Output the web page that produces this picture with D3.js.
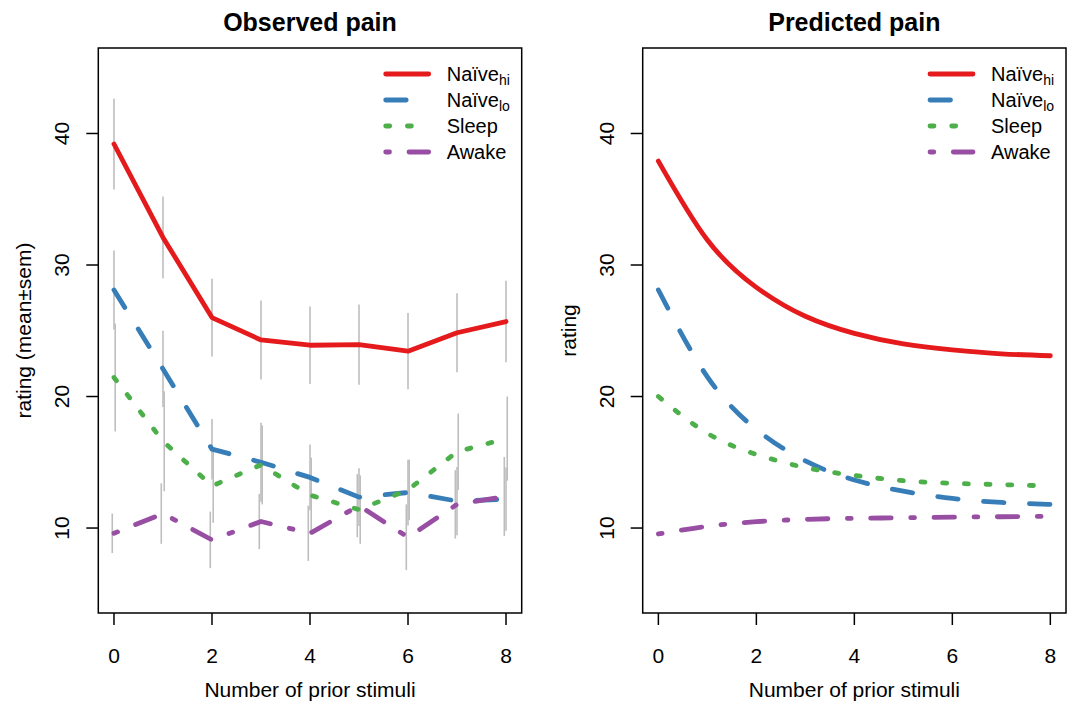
<!DOCTYPE html>
<html>
<head>
<meta charset="utf-8">
<script src="https://cdn.jsdelivr.net/npm/d3@7"></script>
<style>
body { margin: 0; background: #fff; }
svg text { font-family: "Liberation Sans", Arial, sans-serif; fill: #000; }
</style>
</head>
<body>
<svg id="chart" width="1072" height="704"></svg>
<script>
// data
var stimuli = [0, 1, 2, 3, 4, 5, 6, 7, 8]
var xTicks = [0, 2, 4, 6, 8]
var yTicks = [10, 20, 30, 40]

// observed means and sems
var obsHi    = [39.2, 32.1, 26.0, 24.3, 23.9, 23.95, 23.45, 24.85, 25.7]
var obsHiSem = [3.45, 3.1, 2.95, 3.0, 2.95, 3.05, 2.9, 3.0, 3.1]
var obsLo    = [28.1, 22.1, 16.0, 15.0, 13.85, 12.35, 12.7, 12.05, 12.2]
var obsLoSem = [3.0, 2.9, 2.3, 3.0, 2.5, 2.2, 2.5, 2.6, 2.4]
var obsSleep    = [21.45, 16.6, 13.2, 14.8, 12.5, 11.4, 12.9, 15.8, 16.8]
var obsSleepSem = [4.1, 3.8, 2.8, 3.0, 2.85, 2.6, 2.3, 2.9, 3.2]
var obsAwake    = [9.6, 11.1, 9.1, 10.5, 9.6, 11.7, 9.3, 11.8, 12.4]
var obsAwakeSem = [1.5, 2.3, 2.15, 2.1, 2.1, 2.4, 2.5, 2.6, 3.0]

// predicted curves
var predHi    = [37.9, 31.9, 28.3, 26.1, 24.8, 24.0, 23.55, 23.25, 23.1]
var predLo    = [28.1, 21.5, 17.5, 15.1, 13.65, 12.8, 12.25, 11.95, 11.8]
var predSleep = [20.0, 17.2, 15.6, 14.6, 14.0, 13.6, 13.4, 13.3, 13.2]
var predAwake = [9.55, 10.13, 10.48, 10.66, 10.74, 10.78, 10.83, 10.86, 10.89]

var groupNames = ["hi", "lo", "Sleep", "Awake"]

// styles (Set1 colours, R line types)
var styles = [
    {color: "#E41A1C", dash: null,            off: 0},
    {color: "#377EB8", dash: "20.5,25.5",     off: 0},
    {color: "#4DAF4A", dash: "4,17.7",        off: 0.025},
    {color: "#984EA3", dash: "3.8,19.5,20.5,19.5", off: -0.035}
]
var lw = 4.8

var svg = d3.select("#chart")
var plotTop = 48, plotBottom = 613

var yScale = d3.scaleLinear().domain([3.54, 46.5]).range([plotBottom, plotTop])

function drawPanel(left, right, title, ylab, series, sems, smooth) {
    var x = d3.scaleLinear().domain([-0.32, 8.32]).range([left, right])
    var g = svg.append("g")

    // error bars
    if (sems) {
        series.forEach(function(s, k) {
            g.append("g").selectAll("line")
                .data(stimuli)
                .enter()
                .append("line")
                .attr("x1", function(d) {return x(d + styles[k].off)})
                .attr("x2", function(d) {return x(d + styles[k].off)})
                .attr("y1", function(d, i) {return yScale(s[i] + sems[k][i])})
                .attr("y2", function(d, i) {return yScale(s[i] - sems[k][i])})
                .attr("stroke", "#bebebe")
                .attr("stroke-width", 1.6)
        })
    }

    var line = d3.line()
        .x(function(d, i) {return x(stimuli[i])})
        .y(function(d) {return yScale(d)})
        .curve(smooth ? d3.curveNatural : d3.curveLinear)

    series.forEach(function(s, k) {
        g.append("path")
            .attr("d", line(s))
            .attr("fill", "none")
            .attr("stroke", styles[k].color)
            .attr("stroke-width", lw)
            .attr("stroke-linecap", "round")
            .attr("stroke-linejoin", "round")
            .attr("stroke-dasharray", styles[k].dash)
    })

    // box
    g.append("rect")
        .attr("x", left).attr("y", plotTop)
        .attr("width", right - left).attr("height", plotBottom - plotTop)
        .attr("fill", "none").attr("stroke", "#000").attr("stroke-width", 1.5)

    // x axis
    var xa = g.append("g").selectAll("g").data(xTicks).enter().append("g")
    xa.append("line")
        .attr("x1", function(d) {return x(d)}).attr("x2", function(d) {return x(d)})
        .attr("y1", plotBottom).attr("y2", plotBottom + 12)
        .attr("stroke", "#000").attr("stroke-width", 1.5)
    xa.append("text")
        .attr("x", function(d) {return x(d)}).attr("y", 663)
        .attr("text-anchor", "middle").attr("font-size", 21)
        .text(function(d) {return d})

    // y axis
    var ya = g.append("g").selectAll("g").data(yTicks).enter().append("g")
    ya.append("line")
        .attr("x1", left - 12).attr("x2", left)
        .attr("y1", function(d) {return yScale(d)}).attr("y2", function(d) {return yScale(d)})
        .attr("stroke", "#000").attr("stroke-width", 1.5)
    ya.append("text")
        .attr("transform", function(d) {return "translate(" + (left - 29) + "," + yScale(d) + ") rotate(-90)"})
        .attr("text-anchor", "middle").attr("font-size", 21)
        .text(function(d) {return d})

    g.append("text")
        .attr("x", (left + right) / 2).attr("y", 31)
        .attr("text-anchor", "middle").attr("font-size", 25).attr("font-weight", "bold")
        .text(title)
    g.append("text")
        .attr("x", (left + right) / 2).attr("y", 697)
        .attr("text-anchor", "middle").attr("font-size", 21)
        .text("Number of prior stimuli")
    g.append("text")
        .attr("transform", "translate(" + (left - 67) + "," + ((plotTop + plotBottom) / 2) + ") rotate(-90)")
        .attr("text-anchor", "middle").attr("font-size", 21)
        .text(ylab)

    // legend
    var lg = g.append("g").selectAll("g").data(groupNames).enter().append("g")
        .attr("transform", function(d, i) {return "translate(" + (right - 136) + "," + (74 + i * 26) + ")"})
    lg.append("line")
        .attr("x1", 0).attr("x2", 43).attr("y1", 0).attr("y2", 0)
        .attr("stroke", function(d, i) {return styles[i].color})
        .attr("stroke-width", lw)
        .attr("stroke-linecap", "round")
        .attr("stroke-dasharray", function(d, i) {return styles[i].dash})
    var lt = lg.append("text")
        .attr("x", 61).attr("y", 7).attr("font-size", 20)
    lt.each(function(d) {
        var t = d3.select(this)
        if (d == "hi" || d == "lo") {
            t.append("tspan").text("Naïve")
            t.append("tspan").attr("font-size", 14).attr("dy", 4).text(d)
        } else {
            t.text(d)
        }
    })
}

drawPanel(98.3, 521.7, "Observed pain", "rating (mean\u00b1sem)",
          [obsHi, obsLo, obsSleep, obsAwake],
          [obsHiSem, obsLoSem, obsSleepSem, obsAwakeSem], false)
drawPanel(642.7, 1066, "Predicted pain", "rating",
          [predHi, predLo, predSleep, predAwake], null, true)
</script>
</body>
</html>
